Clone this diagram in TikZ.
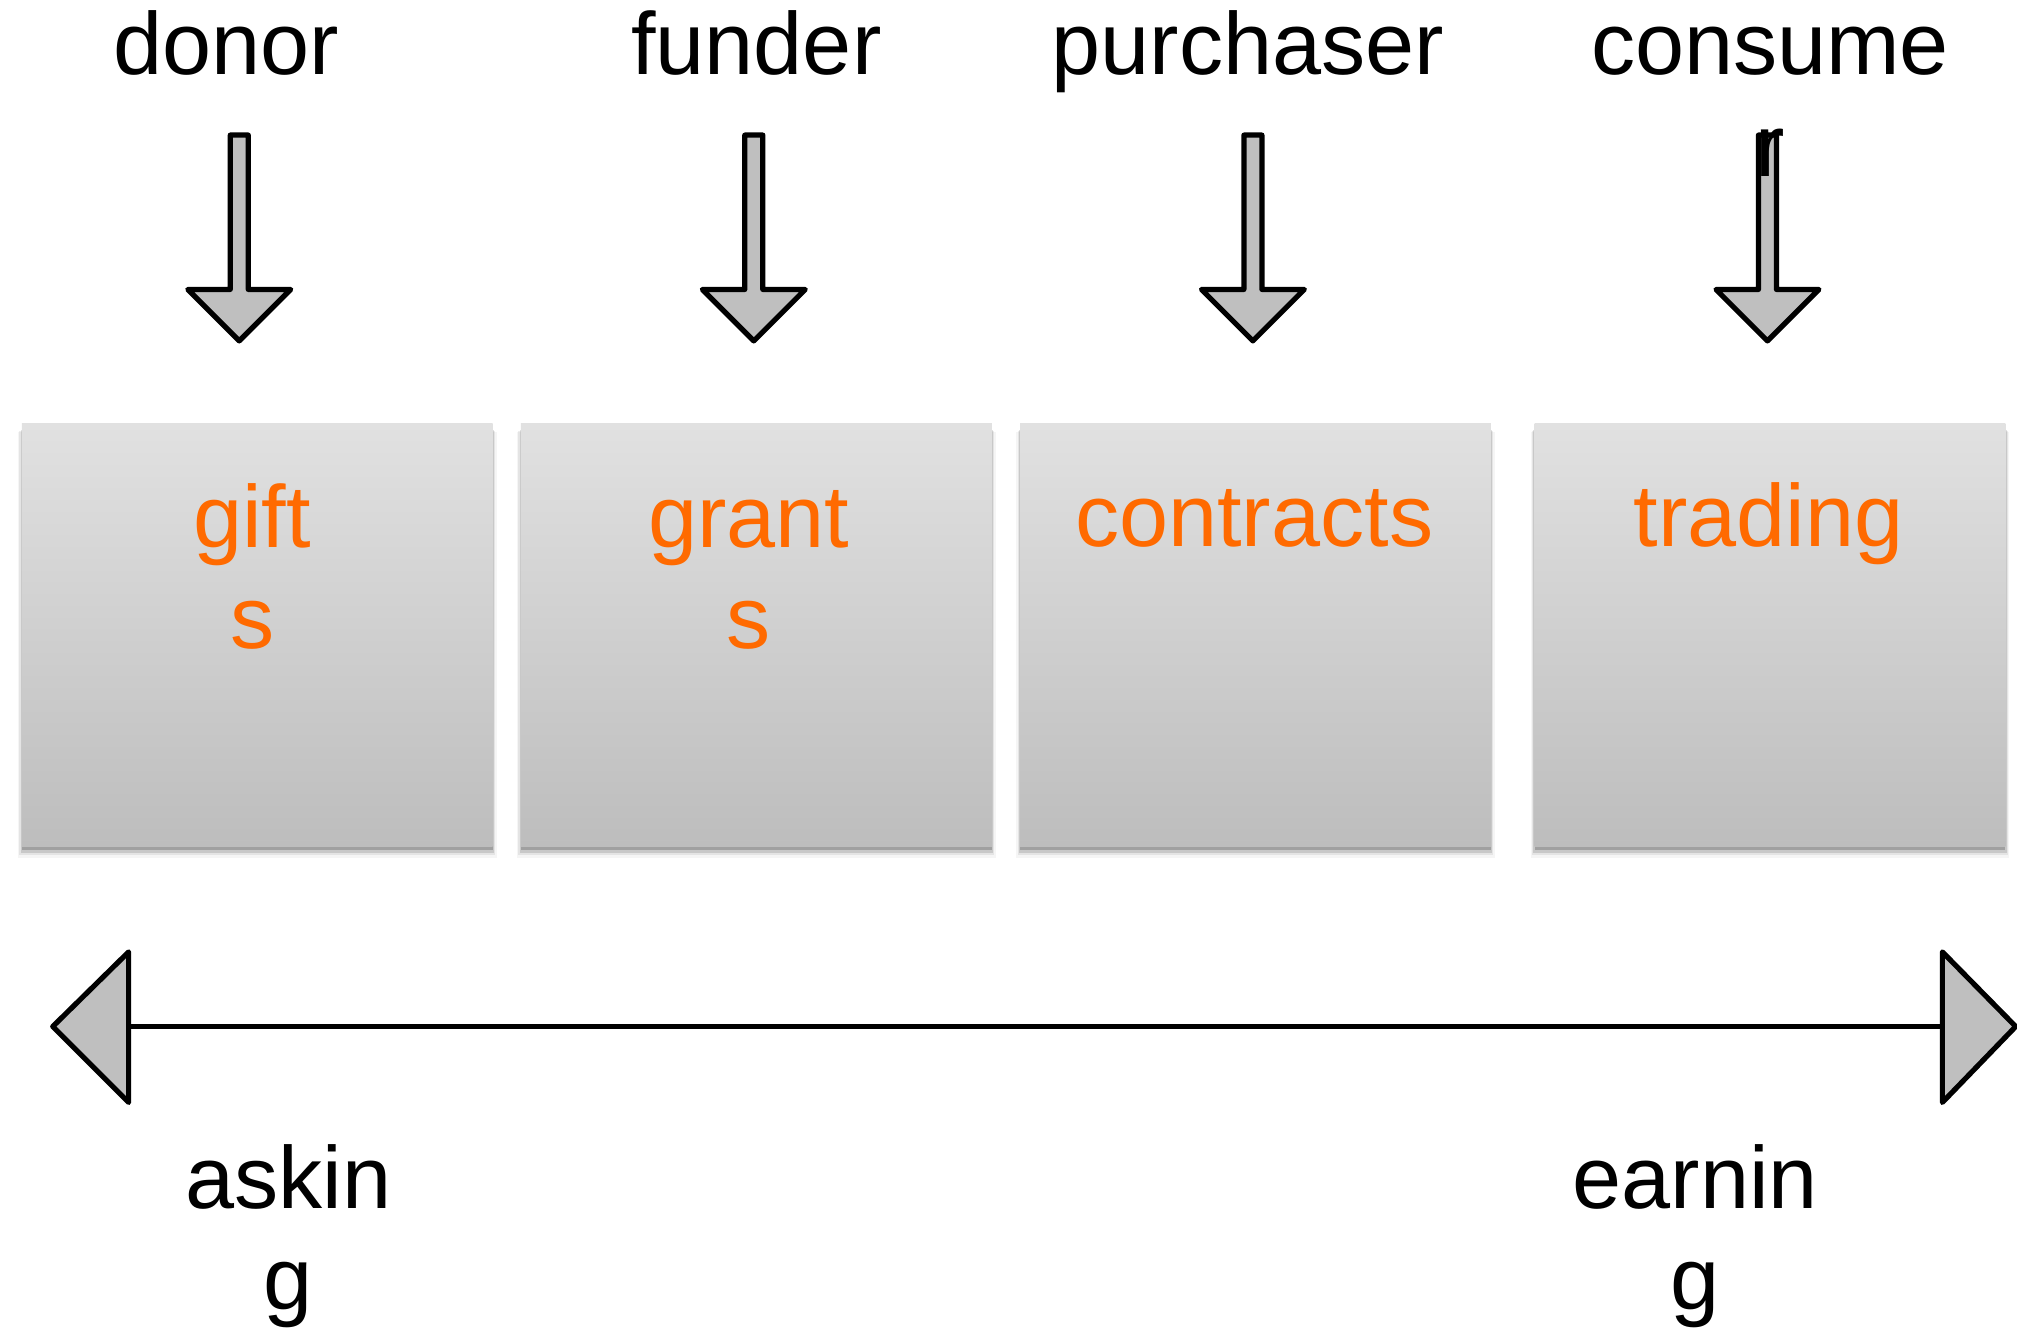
\documentclass[tikz,border=0pt]{standalone}
\usepackage{fontspec}
\setmainfont{Liberation Sans}
\definecolor{boxtop}{HTML}{E1E1E1}
\definecolor{boxbot}{HTML}{BDBDBD}
\definecolor{lbl}{HTML}{FF6A00}
\definecolor{arrfill}{HTML}{BFBFBF}
\begin{document}
\begin{tikzpicture}[x=0.01cm,y=-0.01cm,
  txt/.style={font=\fontsize{19.5}{22.4}\selectfont, inner sep=0pt, align=center, anchor=base},
  boxlbl/.style={txt, text=lbl},
  panel/.style={top color=boxtop, bottom color=boxbot, draw=none},
  fatarrow/.style={draw=black, fill=arrfill, line width=1.15pt, line join=round},
  axis/.style={draw=black, line width=1.15pt},
]
\useasboundingbox (0,0) rectangle (1568,1032);
% panels with soft shadow
\foreach \n/\xa in {p1/17, p2/405, p3/793, p4/1193}{
  \pgfmathsetmacro{\xb}{\xa+366}
  \fill[black, opacity=0.04] (\xa-3,336) rectangle (\xb+3,667);
  \fill[black, opacity=0.07] (\xa-2,335) rectangle (\xb+2,665);
  \fill[black, opacity=0.12] (\xa-1,334) rectangle (\xb+1,663);
  \fill[black, opacity=0.20] (\xa,333) rectangle (\xb,661);
  \shade[panel] (\xa,329) rectangle (\xb,658);
  \coordinate (\n) at ({(\xa+\xb)/2},493);
}
% down arrows
\foreach \n/\x in {a1/186, a2/586, a3/974, a4/1374}{
  \draw[fatarrow] (\x-7,105) -- (\x+7,105) -- (\x+7,225) -- (\x+40,225) -- (\x,265)
     -- (\x-40,225) -- (\x-7,225) -- cycle;
  \coordinate (\n) at (\x,265);
}
% top labels
\node[txt] (donor) at (176,58) {donor};
\node[txt] (funder) at (588,58) {funder};
\node[txt] (purchaser) at (970,58) {purchaser};
\node[txt] (consumer) at (1376,137) {consume\\r};
% box labels
\node[boxlbl] (gifts) at (196,504) {gift\\s};
\node[boxlbl] (grants) at (582,504) {grant\\s};
\node[boxlbl] (contracts) at (975,425) {contracts};
\node[boxlbl] (trading) at (1375,425) {trading};
% double arrow
\coordinate (L) at (100,798);
\coordinate (R) at (1510,798);
\draw[axis] (L) -- (R);
\draw[fatarrow] (L) ++(0,-58) -- ++(-59,58) -- ++(59,59) -- cycle;
\draw[fatarrow] (R) ++(0,-58) -- ++(57,58) -- ++(-57,59) -- cycle;
% bottom labels
\node[txt] (asking) at (224,1018) {askin\\g};
\node[txt] (earning) at (1318,1018) {earnin\\g};
\end{tikzpicture}
\end{document}
